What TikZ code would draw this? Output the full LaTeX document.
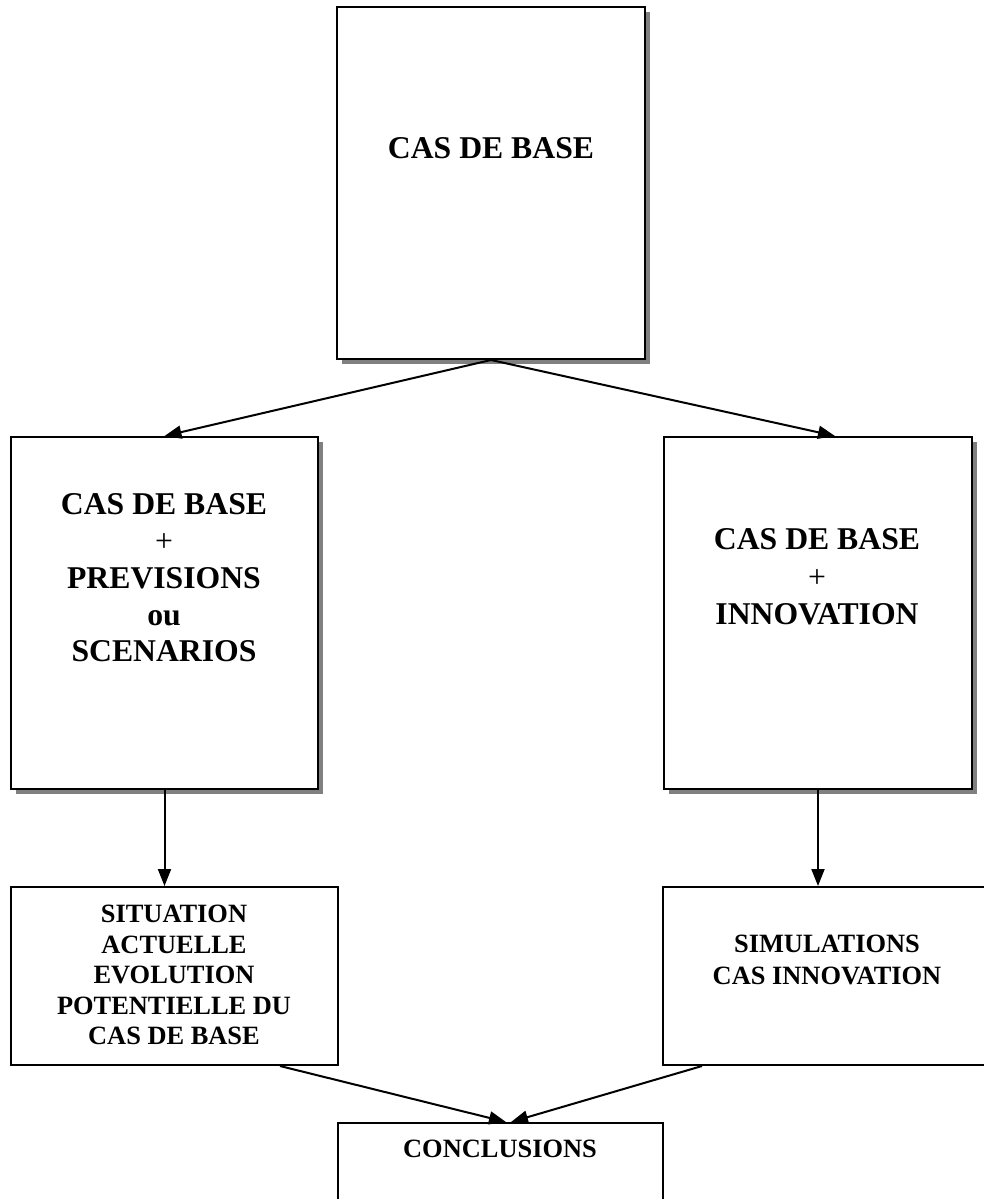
\documentclass[tikz,border=0pt]{standalone}
\usepackage{fontspec}
\setmainfont{Liberation Serif}
\usetikzlibrary{arrows.meta,shadows}
\tikzset{
  box/.style={rectangle, draw=black, line width=1pt, fill=white, inner sep=0pt},
  shadowbox/.style={box, drop shadow={shadow xshift=2.5pt, shadow yshift=-2.5pt, fill=black!50, opacity=1}},
  bigtxt/.style={font=\fontsize{15.85pt}{18.4pt}\selectfont\bfseries, align=center, inner sep=0pt},
  smalltxt/.style={font=\fontsize{13.2pt}{15.3pt}\selectfont\bfseries, align=center, inner sep=0pt},
  conn/.style={line width=1pt, -{Triangle[length=8.5pt,width=6.5pt]}},
}
\begin{document}
\begin{tikzpicture}[x=0.5pt, y=-0.5pt]
  \useasboundingbox (0,0) rectangle (984,1199);
  \fill[white] (0,0) rectangle (984,1199);
  \clip (0,0) rectangle (984,1199);

  % boxes
  \node[shadowbox, minimum width=154pt, minimum height=176pt] (top) at (491,183) {};
  \node[shadowbox, minimum width=153.5pt, minimum height=176pt] (leftmid) at (164.5,613) {};
  \node[shadowbox, minimum width=154pt, minimum height=176pt] (rightmid) at (818,613) {};
  \node[box, minimum width=163.5pt, minimum height=89pt] (botleft) at (174.5,976) {};
  \node[box, minimum width=164pt, minimum height=89pt] (botright) at (827,976) {};
  \node[box, minimum width=162.5pt, minimum height=100pt] (concl) at (500.5,1223) {};

  % texts
  \node[bigtxt, anchor=base] (ttop) at (491,158) {CAS DE BASE};
  \node[bigtxt] (tleftmid) at (164,578) {CAS DE BASE\\{\mdseries +}\\PREVISIONS\\ou\\SCENARIOS};
  \node[bigtxt, font=\fontsize{15.85pt}{18.7pt}\selectfont\bfseries] (trightmid) at (817,577) {CAS DE BASE\\{\mdseries +}\\INNOVATION};
  \node[smalltxt] (tbotleft) at (174,975) {SITUATION\\ACTUELLE\\EVOLUTION\\POTENTIELLE DU\\CAS DE BASE};
  \node[smalltxt, font=\fontsize{13.2pt}{15.6pt}\selectfont\bfseries] (tbotright) at (827,960) {SIMULATIONS\\CAS INNOVATION};
  \node[smalltxt, anchor=base] (tconcl) at (500,1157) {CONCLUSIONS};

  % connectors
  \draw[conn] (top.south) -- (leftmid.north);
  \draw[conn] (top.south) -- ([xshift=8.5pt]rightmid.north);
  \draw[conn] (leftmid.south) -- (leftmid.south |- botleft.north);
  \draw[conn] (rightmid.south) -- (rightmid.south |- botright.north);
  \draw[conn] ([xshift=52.75pt]botleft.south) -- ([xshift=2.75pt]concl.north);
  \draw[conn] ([xshift=-62.5pt]botright.south) -- ([xshift=5.25pt]concl.north);
\end{tikzpicture}
\end{document}
